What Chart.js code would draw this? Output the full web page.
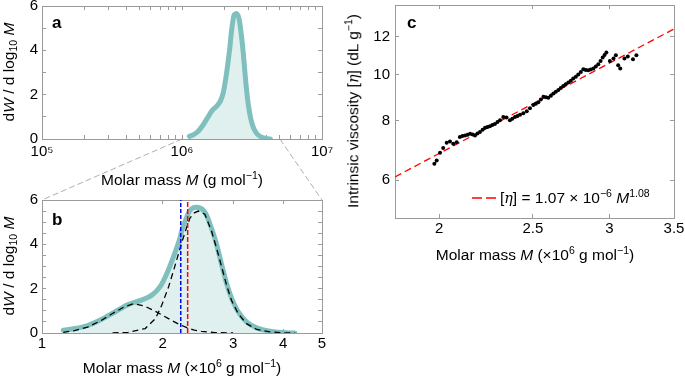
<!DOCTYPE html>
<html>
<head>
<meta charset="utf-8">
<script src="https://cdn.jsdelivr.net/npm/chart.js@4.4.0/dist/chart.umd.min.js"></script>
<style>
  body { margin: 0; background: #fff; }
  #fig { position: relative; width: 685px; height: 379px; overflow: hidden;
         font-family: "Liberation Sans", Arial, sans-serif; color: #000; }
  canvas { position: absolute; }
  .t { position: absolute; font-size: 15.5px; line-height: 1; white-space: nowrap; }
  .c { transform: translate(-50%, -50%); }
  .r { transform: translate(-50%, -50%) rotate(-90deg); }
  .lab { position: absolute; font-size: 17px; font-weight: bold; line-height: 17px; }
  sup { font-size: 0.68em; vertical-align: 0.55em; line-height: 0; }
  sub { font-size: 0.68em; vertical-align: -0.25em; line-height: 0; }
  .eta { font-family: "DejaVu Serif", "Liberation Serif", serif; font-style: italic; font-size: 0.92em; }
</style>
</head>
<body>
<div id="fig">
  <canvas id="links" width="685" height="379" style="left:0;top:0"></canvas>
  <canvas id="ca" width="340" height="165" style="left:0;top:0"></canvas>
  <canvas id="cb" width="340" height="189" style="left:0;top:190px"></canvas>
  <canvas id="cc" width="345" height="250" style="left:340px;top:0"></canvas>

  <div class="lab" style="left:52px;top:14px">a</div>
  <div class="lab" style="left:52px;top:211px">b</div>
  <div class="lab" style="left:407px;top:14px">c</div>

  <div class="t r" style="left:9px;top:72px">d<i>W</i> / d log<sub>10</sub> <i>M</i></div>
  <div class="t c" style="left:182px;top:180px">Molar mass <i>M</i> (g mol<sup>−1</sup>)</div>
  <div class="t r" style="left:9px;top:266px">d<i>W</i> / d log<sub>10</sub> <i>M</i></div>
  <div class="t c" style="left:182px;top:368px">Molar mass <i>M</i> (×10<sup>6</sup> g mol<sup>−1</sup>)</div>
  <div class="t r" style="left:353px;top:111px">Intrinsic viscosity [<span class="eta">η</span>] (dL g<sup>−1</sup>)</div>
  <div class="t c" style="left:535px;top:255px">Molar mass <i>M</i> (×10<sup>6</sup> g mol<sup>−1</sup>)</div>

  <svg style="position:absolute;left:471px;top:193px" width="28" height="10">
    <line x1="1" y1="5" x2="27" y2="5" stroke="#f00" stroke-width="1.3" stroke-dasharray="10,4"></line>
  </svg>
  <div class="t" style="left:500px;top:190px">[<span class="eta">η</span>] = 1.07 × 10<sup>−6</sup> <i>M</i><sup>1.08</sup></div>
</div>

<script>
// molar mass distribution, M in 10^6 g/mol (panel a plots the same curve in g/mol)
const distM = [1.13, 1.21, 1.305, 1.41, 1.52, 1.64, 1.77, 1.88, 1.97, 2.05, 2.13, 2.21, 2.23, 2.30, 2.36, 2.455, 2.55, 2.65, 2.73, 2.81, 2.89, 2.975, 3.09, 3.24, 3.435, 3.71, 4.0, 4.28];
const distW = [0.12, 0.2, 0.35, 0.62, 0.95, 1.28, 1.48, 1.71, 2.08, 2.69, 3.44, 4.27, 4.57, 5.25, 5.6, 5.66, 5.45, 4.72, 3.97, 3.06, 2.23, 1.56, 0.95, 0.5, 0.23, 0.08, 0.02, 0.0];

// two fitted components (dashed black)
const lowM = [1.13, 1.2, 1.3, 1.4, 1.5, 1.6, 1.69, 1.8, 1.9, 2.0, 2.1, 2.2, 2.3, 2.4, 2.5, 2.7, 3.0];
const lowW = [0.03, 0.1, 0.27, 0.55, 0.88, 1.17, 1.32, 1.22, 1.02, 0.8, 0.58, 0.39, 0.24, 0.13, 0.07, 0.02, 0.0];
const highM = [1.5, 1.64, 1.81, 1.92, 1.99, 2.07, 2.15, 2.23, 2.30, 2.34, 2.4, 2.455, 2.55, 2.65, 2.73, 2.81, 2.89, 2.975, 3.09, 3.24, 3.435, 3.71, 4.0, 4.28];
const highW = [0.0, 0.03, 0.2, 0.65, 1.25, 2.08, 3.06, 4.05, 4.8, 5.18, 5.42, 5.5, 5.36, 4.6, 3.8, 2.97, 2.15, 1.45, 0.87, 0.42, 0.16, 0.05, 0.01, 0.0];

// averages marked by vertical lines
const avgBlue = 2.22;
const avgRed = 2.31;

// intrinsic viscosity vs M
const visM = [1.977, 1.988, 2.004, 2.019, 2.036, 2.052, 2.068, 2.085, 2.101, 2.114, 2.127, 2.14, 2.153, 2.166, 2.178, 2.191, 2.204, 2.218, 2.231, 2.244, 2.257, 2.27, 2.284, 2.298, 2.312, 2.33, 2.348, 2.367, 2.381, 2.396, 2.41, 2.425, 2.444, 2.464, 2.483, 2.503, 2.518, 2.533, 2.548, 2.564, 2.579, 2.594, 2.61, 2.626, 2.641, 2.657, 2.672, 2.688, 2.704, 2.721, 2.737, 2.753, 2.77, 2.786, 2.803, 2.82, 2.836, 2.853, 2.87, 2.888, 2.905, 2.922, 2.938, 2.953, 2.966, 2.979, 3.004, 3.03, 3.047, 3.064, 3.079, 3.11, 3.135, 3.174, 3.2];
const visEta = [6.5, 6.6, 6.85, 7.01, 7.19, 7.24, 7.16, 7.21, 7.4, 7.43, 7.45, 7.48, 7.51, 7.49, 7.45, 7.52, 7.58, 7.66, 7.73, 7.76, 7.79, 7.84, 7.88, 7.95, 8.02, 8.15, 8.13, 8.02, 8.08, 8.15, 8.19, 8.24, 8.3, 8.38, 8.5, 8.63, 8.69, 8.75, 8.87, 8.99, 8.96, 8.94, 9.03, 9.13, 9.2, 9.28, 9.37, 9.46, 9.54, 9.62, 9.71, 9.81, 9.9, 10.01, 10.13, 10.26, 10.23, 10.21, 10.25, 10.3, 10.4, 10.51, 10.68, 10.86, 11.0, 11.13, 10.68, 10.81, 10.98, 10.46, 10.3, 10.81, 10.91, 10.77, 10.98];

// power-law fit [eta] = 1.07e-6 M^1.08, straight on log-log axes
const lawM = [1.8, 3.5];
const lawEta = [6.1, 12.47];

// ticks
const aXTicks = [1e5, 2e5, 3e5, 4e5, 5e5, 6e5, 7e5, 8e5, 9e5, 1e6, 2e6, 3e6, 4e6, 5e6, 6e6, 7e6, 8e6, 9e6, 1e7];
const aXLabels = { 100000: '10⁵', 1000000: '10⁶', 10000000: '10⁷' };
const aYTicks = [0, 1, 2, 3, 4, 5, 6];
const bXTicks = [1, 2, 3, 4, 5];
const bYTicks = [0, 0.5, 1, 1.5, 2, 2.5, 3, 3.5, 4, 4.5, 5, 5.5, 6];
const wLabels = { 0: '0', 2: '2', 4: '4', 6: '6' };
const cXTicks = [2, 2.5, 3, 3.5];
const cYTicks = [6, 8, 10, 12];

const FONT = { family: '"Liberation Sans", Arial, sans-serif', size: 15 };
const FRAME = '#9a9a9a';
const TEAL = '#7fc0bf';
const TEAL_FILL = '#e0f0ef';

function pts(xs, ys, k = 1) {
  return xs.map((x, i) => ({ x: x * k, y: ys[i] }));
}

function axis(type, pos, min, max, ticks, labels, size, pad) {
  const vertical = pos === 'left' || pos === 'right';
  return {
    type: type, position: pos, min: min, max: max,
    border: { display: true, color: FRAME, width: 1 },
    grid: { display: true, drawOnChartArea: false, drawTicks: true, tickLength: -4, color: FRAME, tickColor: FRAME },
    ticks: {
      display: !!labels, font: FONT, color: '#000', padding: pad,
      autoSkip: false, maxRotation: 0,
      callback: v => (labels && labels[v] !== undefined ? labels[v] : '')
    },
    afterBuildTicks: s => { s.ticks = ticks.map(v => ({ value: v })); },
    afterFit: s => {
      if (vertical) s.width = size; else s.height = size;
      s.paddingTop = s.paddingBottom = s.paddingLeft = s.paddingRight = 0;
    }
  };
}

const base = {
  responsive: false,
  animation: false,
  plugins: { legend: { display: false }, tooltip: { enabled: false } },
  elements: { point: { radius: 0 } }
};

function lineSet(data, color, width, dash, order) {
  return { data: data, showLine: true, borderColor: color, borderWidth: width, borderDash: dash, pointRadius: 0, fill: false, order: order, tension: 0 };
}

function distSet(k) {
  return {
    data: pts(distM, distW, k), showLine: true, borderColor: TEAL, borderWidth: 5,
    borderCapStyle: 'round', borderJoinStyle: 'round', pointRadius: 0,
    fill: 'origin', backgroundColor: TEAL_FILL, order: 5, tension: 0.3
  };
}

// panel a
const chartA = new Chart(document.getElementById('ca'), {
  type: 'scatter',
  data: { datasets: [distSet(1e6)] },
  options: Object.assign({}, base, {
    layout: { padding: { top: 6, right: 18, left: 0, bottom: 0 } },
    scales: {
      x: axis('logarithmic', 'bottom', 1e5, 1e7, aXTicks, aXLabels, 26, 8),
      x2: axis('logarithmic', 'top', 1e5, 1e7, aXTicks, null, 0, 0),
      y: axis('linear', 'left', 0, 6, aYTicks, wLabels, 42, 8),
      y2: axis('linear', 'right', 0, 6, aYTicks, null, 0, 0)
    }
  })
});

// panel b
const chartB = new Chart(document.getElementById('cb'), {
  type: 'scatter',
  data: {
    datasets: [
      distSet(1),
      lineSet(pts(lowM, lowW), '#000', 1.3, [6, 4], 3),
      lineSet(pts(highM, highW), '#000', 1.3, [6, 4], 3),
      lineSet([{ x: avgBlue, y: 0 }, { x: avgBlue, y: 6 }], '#0000ff', 1.5, [4, 2], 1),
      lineSet([{ x: avgRed, y: 0 }, { x: avgRed, y: 6 }], '#ff0000', 1.5, [5, 2], 1)
    ]
  },
  options: Object.assign({}, base, {
    layout: { padding: { top: 10, right: 18, left: 0, bottom: 0 } },
    scales: {
      x: axis('logarithmic', 'bottom', 1, 5, bXTicks, { 1: '1', 2: '2', 3: '3', 4: '4', 5: '5' }, 46, 6),
      x2: axis('logarithmic', 'top', 1, 5, bXTicks, null, 0, 0),
      y: axis('linear', 'left', 0, 6, bYTicks, wLabels, 42, 8),
      y2: axis('linear', 'right', 0, 6, bYTicks, null, 0, 0)
    }
  })
});

// panel c
const chartC = new Chart(document.getElementById('cc'), {
  type: 'scatter',
  data: {
    datasets: [
      lineSet(pts(lawM, lawEta), '#ff0000', 1.3, [7, 4], 2),
      { data: pts(visM, visEta), pointRadius: 2, pointBackgroundColor: '#000', pointBorderWidth: 0, showLine: false, order: 1 }
    ]
  },
  options: Object.assign({}, base, {
    layout: { padding: { top: 5, right: 11, left: 0, bottom: 0 } },
    scales: {
      x: axis('logarithmic', 'bottom', 1.8, 3.5, cXTicks, { 2: '2', 2.5: '2.5', 3: '3', 3.5: '3.5' }, 32, 6),
      x2: axis('logarithmic', 'top', 1.8, 3.5, cXTicks, null, 0, 0),
      y: axis('logarithmic', 'left', 5, 14, cYTicks, { 6: '6', 8: '8', 10: '10', 12: '12' }, 55, 9),
      y2: axis('logarithmic', 'right', 5, 14, cYTicks, null, 0, 0)
    }
  })
});

// grey zoom connectors from panel a's 10^6..5x10^6 range to panel b's frame
(function () {
  const ctx = document.getElementById('links').getContext('2d');
  const ax = chartA.scales.x, aArea = chartA.chartArea, bArea = chartB.chartArea;
  const bTop = 190 + bArea.top;
  ctx.strokeStyle = '#999';
  ctx.lineWidth = 0.8;
  ctx.setLineDash([6, 3]);
  ctx.beginPath();
  ctx.moveTo(ax.getPixelForValue(1e6), aArea.bottom);
  ctx.lineTo(bArea.left, bTop);
  ctx.moveTo(ax.getPixelForValue(5e6), aArea.bottom);
  ctx.lineTo(bArea.right, bTop);
  ctx.stroke();
})();
</script>
</body>
</html>
